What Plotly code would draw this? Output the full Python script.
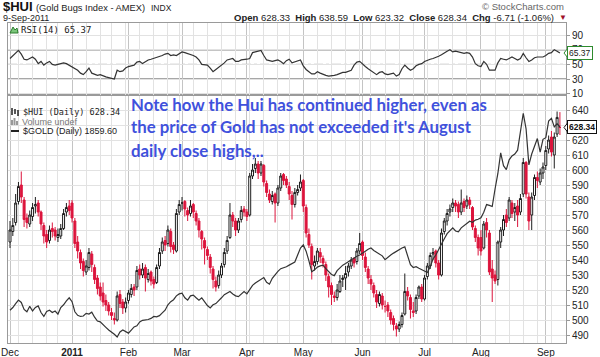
import pandas as pd
import plotly.graph_objects as go

# ---------------- calendar (trading days Dec 1 2010 .. Sep 9 2011) ----------------
holidays = ["2010-12-24", "2011-01-17", "2011-02-21", "2011-04-22",
            "2011-05-30", "2011-07-04", "2011-09-05"]
dates = pd.bdate_range("2010-12-01", "2011-09-09")
dates = dates[~dates.isin(pd.to_datetime(holidays))]

month_labels = ["Dec", "<b>2011</b>", "Feb", "Mar", "Apr", "May", "Jun", "Jul", "Aug", "Sep"]

# ---------------- $HUI daily OHLC ----------------
hui_open = [
    552, 559, 565, 579, 590, 580, 568, 564, 569, 576, 578, 572, 563, 557, 553, 561, 560, 555, 556, 561, 572, 576,
    578, 566, 552, 545, 539, 532, 535, 544, 535, 528, 522, 518, 513, 510, 505, 501, 500, 517, 512, 508,
    513, 517, 522, 522, 534, 530, 535, 527, 532, 527, 525, 536, 546, 553, 551, 559, 550, 546, 572,
    578, 579, 573, 571, 577, 571, 566, 559, 553, 547, 542, 534, 526, 523, 530, 537, 546, 555, 570, 566, 560, 567, 574,
    572, 570, 596, 601, 604, 598, 603, 591, 584, 579, 584, 578, 588, 597, 594, 589, 583, 577, 585, 588,
    593, 575, 557, 549, 536, 539, 545, 541, 537, 529, 523, 516, 515, 519, 527, 528, 532, 536, 541, 539, 546,
    552, 542, 534, 527, 523, 517, 511, 516, 509, 510, 505, 501, 496, 494, 497, 504, 519, 515, 506, 506, 516, 522,
    514, 529, 536, 544, 546, 538, 530, 559, 566, 572, 575, 578, 577, 572, 579, 576, 580, 575, 561, 555,
    555, 548, 565, 558, 534, 530, 527, 552, 560, 570, 568, 578, 572, 576, 572, 584, 605, 582, 570, 583, 595, 592, 598,
    603, 614, 622, 610, 624, 628.33]
hui_high = [
    566, 568, 584, 592, 599, 582, 571, 573, 578, 582, 580, 573, 565, 560, 563, 565, 562, 561, 564, 574, 578, 580,
    580, 568, 556, 547, 541, 540, 548, 546, 537, 530, 525, 525, 517, 512, 508, 505, 519, 520, 514, 515,
    520, 524, 524, 536, 537, 538, 537, 534, 533, 529, 537, 548, 555, 556, 563, 561, 552, 574, 580,
    582, 580, 575, 580, 578, 573, 568, 560, 555, 549, 544, 536, 529, 533, 538, 548, 556, 578, 572, 568, 568, 576, 576,
    574, 598, 604, 608, 606, 606, 604, 593, 587, 586, 585, 590, 598, 598, 596, 592, 586, 588, 590, 597,
    594, 577, 561, 551, 543, 548, 548, 543, 539, 531, 525, 519, 524, 530, 530, 536, 538, 542, 542, 548, 558,
    553, 545, 536, 530, 525, 520, 519, 518, 513, 512, 507, 503, 498, 499, 505, 531, 522, 517, 512, 517, 523, 524,
    530, 538, 545, 548, 547, 540, 561, 568, 574, 577, 581, 580, 579, 587, 581, 583, 582, 576, 563, 557,
    560, 566, 568, 560, 540, 533, 553, 562, 570, 574, 582, 580, 578, 580, 584, 608, 606, 585, 585, 597, 599, 601, 605,
    616, 623, 626, 625, 639, 638.59]
hui_low = [
    548, 556, 563, 577, 578, 562, 561, 562, 566, 571, 569, 560, 551, 548, 551, 555, 553, 552, 554, 560, 569, 570,
    565, 548, 541, 534, 529, 530, 533, 532, 524, 517, 513, 509, 506, 503, 500, 497, 499, 508, 504, 505,
    511, 515, 516, 520, 527, 528, 519, 525, 523, 521, 524, 534, 544, 546, 549, 545, 544, 545, 570,
    573, 569, 566, 569, 568, 563, 555, 547, 537, 540, 531, 521, 519, 521, 528, 535, 544, 554, 562, 556, 558, 565, 569,
    566, 569, 594, 598, 594, 596, 589, 582, 578, 577, 565, 576, 586, 590, 588, 580, 567, 575, 583, 586,
    572, 555, 548, 527, 533, 537, 538, 535, 526, 515, 510, 512, 513, 518, 522, 520, 529, 534, 535, 537, 544,
    540, 532, 524, 520, 515, 508, 509, 507, 505, 502, 497, 493, 489, 492, 495, 503, 513, 501, 502, 504, 514, 512,
    513, 527, 534, 540, 535, 527, 529, 557, 563, 569, 572, 572, 568, 570, 572, 574, 574, 560, 552, 543,
    543, 547, 555, 530, 512, 524, 523, 548, 556, 562, 566, 568, 566, 562, 570, 582, 581, 560, 560, 580, 588, 590, 594,
    600, 611, 609, 601, 622, 623.32]
hui_close = [
    560, 563, 578, 589, 582, 567, 565, 570, 575, 577, 572, 564, 556, 552, 560, 559, 556, 557, 561, 571, 575, 573,
    568, 551, 546, 538, 533, 536, 545, 537, 527, 521, 516, 512, 510, 506, 503, 500, 516, 511, 508, 512,
    518, 521, 520, 533, 530, 534, 528, 531, 526, 524, 535, 545, 552, 550, 560, 549, 547, 571, 577,
    578, 574, 570, 576, 572, 566, 560, 554, 548, 543, 535, 527, 522, 530, 536, 545, 553, 570, 566, 560, 566, 573, 572,
    569, 596, 600, 604, 598, 604, 592, 585, 580, 583, 578, 588, 596, 593, 590, 584, 577, 585, 587, 592,
    576, 558, 550, 537, 539, 546, 542, 538, 530, 522, 517, 515, 520, 526, 528, 531, 536, 540, 538, 546, 551,
    543, 535, 528, 524, 518, 512, 517, 510, 509, 506, 500, 497, 494, 497, 503, 519, 516, 507, 505, 515, 522, 514,
    528, 536, 543, 545, 538, 530, 558, 566, 571, 574, 578, 576, 572, 578, 575, 580, 577, 562, 555, 548,
    546, 564, 560, 532, 528, 526, 552, 560, 567, 565, 580, 571, 575, 570, 581, 605, 584, 566, 582, 595, 593, 598, 602,
    613, 620, 612, 622, 635.05, 628.34]

# ---------------- $GOLD daily close ----------------
gold_close = [
    1388, 1395, 1405, 1414, 1408, 1390, 1384, 1398, 1386, 1395, 1399, 1382, 1372, 1385, 1388, 1382, 1386, 1378, 1395, 1402, 1412, 1420,
    1410, 1384, 1375, 1372, 1373, 1380, 1378, 1383, 1370, 1360, 1358, 1350, 1344, 1337, 1332, 1326, 1319, 1332, 1337, 1333,
    1329, 1337, 1345, 1348, 1358, 1362, 1363, 1364, 1367, 1372, 1371, 1374, 1381, 1388, 1402, 1410, 1415, 1425, 1430,
    1432, 1420, 1414, 1425, 1427, 1420, 1414, 1420, 1410, 1400, 1394, 1402, 1405, 1414, 1420, 1428, 1432, 1436, 1430, 1425, 1423, 1430, 1436,
    1430, 1440, 1452, 1458, 1462, 1468, 1472, 1460, 1455, 1470, 1480, 1488, 1495, 1497, 1500, 1504, 1508, 1512, 1530, 1548,
    1556, 1540, 1515, 1487, 1492, 1499, 1502, 1504, 1495, 1488, 1480, 1477, 1490, 1497, 1504, 1508, 1513, 1518, 1522, 1527, 1530,
    1536, 1540, 1545, 1548, 1542, 1538, 1533, 1528, 1518, 1525, 1530, 1535, 1540, 1545, 1548, 1551, 1530, 1505, 1498, 1500, 1496, 1492,
    1490, 1485, 1500, 1520, 1530, 1545, 1560, 1572, 1585, 1592, 1600, 1592, 1590, 1600, 1605, 1612, 1617, 1614, 1620, 1622,
    1626, 1640, 1660, 1658, 1655, 1700, 1740, 1793, 1760, 1750, 1775, 1785, 1790, 1800, 1850, 1895, 1855, 1762, 1790, 1810, 1830, 1795, 1828,
    1832, 1875, 1882, 1860, 1868, 1859.6]

# ---------------- RSI(14) ----------------
rsi14 = [
    58, 62, 66, 69, 64, 57, 56, 58, 60, 57, 51, 54, 49, 52, 54, 50, 49, 50, 51, 52, 51, 49,
    47, 44, 42, 38, 36, 40, 45, 38, 36, 35, 36, 34, 33, 32, 31, 30, 42, 40, 41, 45,
    47, 48, 49, 53, 54, 51, 54, 56, 57, 58, 59, 60, 62, 64, 65, 62, 63, 62, 65,
    67, 66, 65, 64, 62, 60, 56, 50, 49, 49, 45, 40, 43, 46, 48, 52, 56, 57, 58, 54, 54, 56, 56,
    57, 58, 66, 67, 68, 69, 62, 56, 55, 54, 55, 56, 54, 51, 55, 57, 52, 53, 54, 56,
    48, 43, 40, 37, 37, 40, 38, 36, 35, 34, 34, 35, 36, 38, 39, 39, 40, 42, 49, 53, 54,
    50, 47, 44, 41, 38, 36, 39, 40, 37, 36, 37, 38, 34, 36, 44, 49, 45, 42, 44, 48, 50, 51,
    54, 56, 57, 58, 59, 61, 63, 66, 68, 70, 67, 68, 67, 66, 65, 66, 65, 60, 51, 48,
    47, 54, 50, 42, 42, 42, 52, 58, 57, 56, 58, 60, 58, 56, 58, 65, 59, 54, 56, 59, 60, 60, 60,
    62, 65, 66, 70, 68, 65.37]

price_ticks = list(range(490, 641, 10))
# the 630 label sits under the last-value tag in the original, so it shows no text
price_ticktext = ["" if v == 630 else str(v) for v in price_ticks]
rsi_ticks = [10, 30, 50, 70, 90]

n = len(hui_close)
idx = list(range(n))
dser = pd.Series(dates[:n])
month_idx = [i for i in idx if i == 0 or dser[i].month != dser[i - 1].month]
week_idx = [i for i in idx if i == 0 or dser[i].isocalendar()[1] != dser[i - 1].isocalendar()[1]]

BLACK = "#1e1e1e"
RED = "#dc143c"

# StockCharts colouring: red if close below previous close, else black
prev = [hui_open[0]] + hui_close[:-1]
blk = [i for i in idx if hui_close[i] >= prev[i]]
red = [i for i in idx if hui_close[i] < prev[i]]


def pick(lst, ii):
    return [lst[i] for i in ii]


fig = go.Figure()
for grp, col in ((blk, BLACK), (red, RED)):
    fig.add_trace(go.Candlestick(
        x=grp, open=pick(hui_open, grp), high=pick(hui_high, grp),
        low=pick(hui_low, grp), close=pick(hui_close, grp),
        xaxis="x", yaxis="y", whiskerwidth=0,
        increasing=dict(line=dict(color=col, width=1), fillcolor="white"),
        decreasing=dict(line=dict(color=col, width=1), fillcolor=col),
        showlegend=False, hoverinfo="skip"))

fig.add_trace(go.Scatter(x=idx, y=gold_close, xaxis="x", yaxis="y2", mode="lines",
                         line=dict(color="#333333", width=1.2), showlegend=False, hoverinfo="skip"))
fig.add_trace(go.Scatter(x=idx, y=rsi14, xaxis="x2", yaxis="y3", mode="lines",
                         line=dict(color="#333333", width=1.2), showlegend=False, hoverinfo="skip"))

# ---------------- geometry (pixels) ----------------
W, H = 600, 357
L, R, T, B = 8, 34, 23, 14
PW, PH = W - L - R, H - T - B
SPLIT = 95  # pixel y of border between panels


def px(x):
    return (x - L) / PW


def py(y):
    return (H - B - y) / PH


split_dom = py(SPLIT)

GRID_MONTH = "#c4c4c4"
GRID_WEEK = "#e2e2e2"
FRAME = "#9a9a9a"
TICKFONT = dict(family="Liberation Sans, Arial", size=10, color="#222")

xcommon = dict(range=[-0.71, 197.16], tickvals=month_idx, showgrid=True, gridcolor=GRID_MONTH,
               gridwidth=1, minor=dict(tickvals=week_idx, showgrid=True, gridcolor=GRID_WEEK, gridwidth=1),
               zeroline=False, showline=True, linecolor=FRAME, mirror=True,
               rangeslider=dict(visible=False), fixedrange=True)

fig.update_layout(
    width=W, height=H, margin=dict(l=L, r=R, t=T, b=B, autoexpand=False),
    paper_bgcolor="white", plot_bgcolor="white",
    boxgap=0.3, boxgroupgap=0.0,
    xaxis=dict(anchor="y", domain=[0, 1], ticktext=month_labels, ticks="",
               tickfont=TICKFONT, automargin=False, **xcommon),
    xaxis2=dict(anchor="y3", domain=[0, 1], matches="x", showticklabels=False, ticks="",
                automargin=False, **xcommon),
    yaxis=dict(domain=[0, split_dom], range=[484.67, 650], side="right", tickvals=price_ticks,
               ticktext=price_ticktext,
               ticks="outside", ticklen=3, tickcolor=FRAME, tickfont=TICKFONT, automargin=False,
               showgrid=True, gridcolor=GRID_WEEK, zeroline=False, showline=True,
               linecolor=FRAME, mirror=True, fixedrange=True),
    yaxis2=dict(overlaying="y", range=[1303.6, 1942.0], visible=False, fixedrange=True),
    yaxis3=dict(domain=[split_dom, 1], range=[8.2, 106.4], side="right", tickvals=rsi_ticks,
                ticks="outside", ticklen=3, tickcolor=FRAME, tickfont=TICKFONT, automargin=False,
                showgrid=True, gridcolor=GRID_WEEK, zeroline=False, showline=True,
                linecolor=FRAME, mirror=True, anchor="x2", fixedrange=True),
)

shapes = []
# RSI reference lines
for lvl, dash, w in ((70, "solid", 1.6), (30, "solid", 1.6), (50, "dashdot", 1)):
    shapes.append(dict(type="line", xref="x2 domain", yref="y3", x0=0, x1=1, y0=lvl, y1=lvl,
                       line=dict(color="#8a8a8a", width=w, dash=dash), layer="below"))

hui_tag_y = 110 + (640 - hui_close[-1]) * 1.5
rsi_tag_y = 35 + (90 - rsi14[-1]) * (44 / 60)


def tip_path(ycen):
    return (f"M {px(564)} {py(ycen)} L {px(568)} {py(ycen - 5)} L {px(568)} {py(ycen + 5)} Z")


shapes.append(dict(type="path", xref="paper", yref="paper", path=tip_path(hui_tag_y),
                   line=dict(color="#111", width=1), fillcolor="white"))
shapes.append(dict(type="path", xref="paper", yref="paper", path=tip_path(rsi_tag_y),
                   line=dict(color="#2e8b2e", width=1), fillcolor="white"))

# small legend glyphs
shapes.append(dict(type="path", xref="paper", yref="paper",
                   path=f"M {px(10)} {py(33)} L {px(13)} {py(27)} L {px(15)} {py(30)} L {px(17)} {py(28)} L {px(18)} {py(33)} Z",
                   line=dict(color="#2e7d2e", width=1), fillcolor="#7bc67b"))
for xx, y0, y1 in ((12, 108, 115), (15, 109, 114), (18, 110, 116)):
    shapes.append(dict(type="line", xref="paper", yref="paper", x0=px(xx), x1=px(xx), y0=py(y0), y1=py(y1),
                       line=dict(color="#222", width=1.5)))
for xx, y0 in ((12, 120), (14.5, 118), (17, 121)):
    shapes.append(dict(type="line", xref="paper", yref="paper", x0=px(xx), x1=px(xx), y0=py(y0), y1=py(125),
                       line=dict(color="#999", width=2)))
shapes.append(dict(type="line", xref="paper", yref="paper", x0=px(11), x1=px(19), y0=py(131), y1=py(131),
                   line=dict(color="#222", width=2)))
fig.update_layout(shapes=shapes)

ann = []


def text(x, y, s, size=10, color="#222", family="Liberation Sans, Arial", anchor="left", weight=None, **kw):
    f = dict(size=size, color=color, family=family)
    if weight:
        f["weight"] = weight
    ann.append(dict(xref="paper", yref="paper", x=px(x), y=py(y), text=s, showarrow=False,
                    xanchor=anchor, yanchor="middle", font=f, **kw))


# header
text(1, 7, "<b>$HUI</b>", size=13, color="#111")
text(34, 7.5, "(Gold Bugs Index - AMEX)", size=9.3, color="#222")
text(149, 7.5, "INDX", size=8.5, color="#222")
text(1, 18.5, "9-Sep-2011", size=9, color="#222")
text(566, 7, "© StockCharts.com", size=9.5, color="#666", anchor="right")
text(556, 17.5, "<b>Open</b> 628.33&nbsp;&nbsp;<b>High</b> 638.59&nbsp;&nbsp;<b>Low</b> 623.32&nbsp;&nbsp;"
                "<b>Close</b> 628.34&nbsp;&nbsp;<b>Chg</b> -6.71 (-1.06%)", size=9.5, color="#222", anchor="right")
text(557, 17.5, "▼", size=8, color="#a0102a")

# panel legends
text(19, 30, "RSI(14) 65.37", size=9, family="DejaVu Sans Mono, monospace", color="#222")
text(21, 112, "$HUI (Daily) 628.34", size=8.5, family="DejaVu Sans Mono, monospace", color="#222")
text(20, 122, "Volume undef", size=9, color="#777")
text(21, 131, "$GOLD (Daily) 1859.60", size=9, color="#222")

# last-value tags (drawn above the tick labels they cover)
text(567, hui_tag_y, "<b>628.34</b>", size=8.5, color="#111", bgcolor="white",
     bordercolor="#111", borderwidth=1, borderpad=1)
text(567, rsi_tag_y, "65.37", size=8.5, color="#222", bgcolor="white",
     bordercolor="#2e8b2e", borderwidth=1, borderpad=1)

# note
NOTE = "#3f51dc"
note_lines = ["Note how the Hui has continued higher, even as",
              "the price of Gold has not exceeded it's August",
              "daily close highs,.."]
for k, line in enumerate(note_lines):
    text(129, 104 + 23 * k, line, size=16.8, color=NOTE, family="Lato, Open Sans, sans-serif", weight=700)

fig.update_layout(annotations=ann)
fig.write_html("out.html", config={"displayModeBar": False, "staticPlot": True},
               post_script="document.body.style.margin='0';document.body.style.padding='0';"
                           "document.body.style.overflow='hidden';")
